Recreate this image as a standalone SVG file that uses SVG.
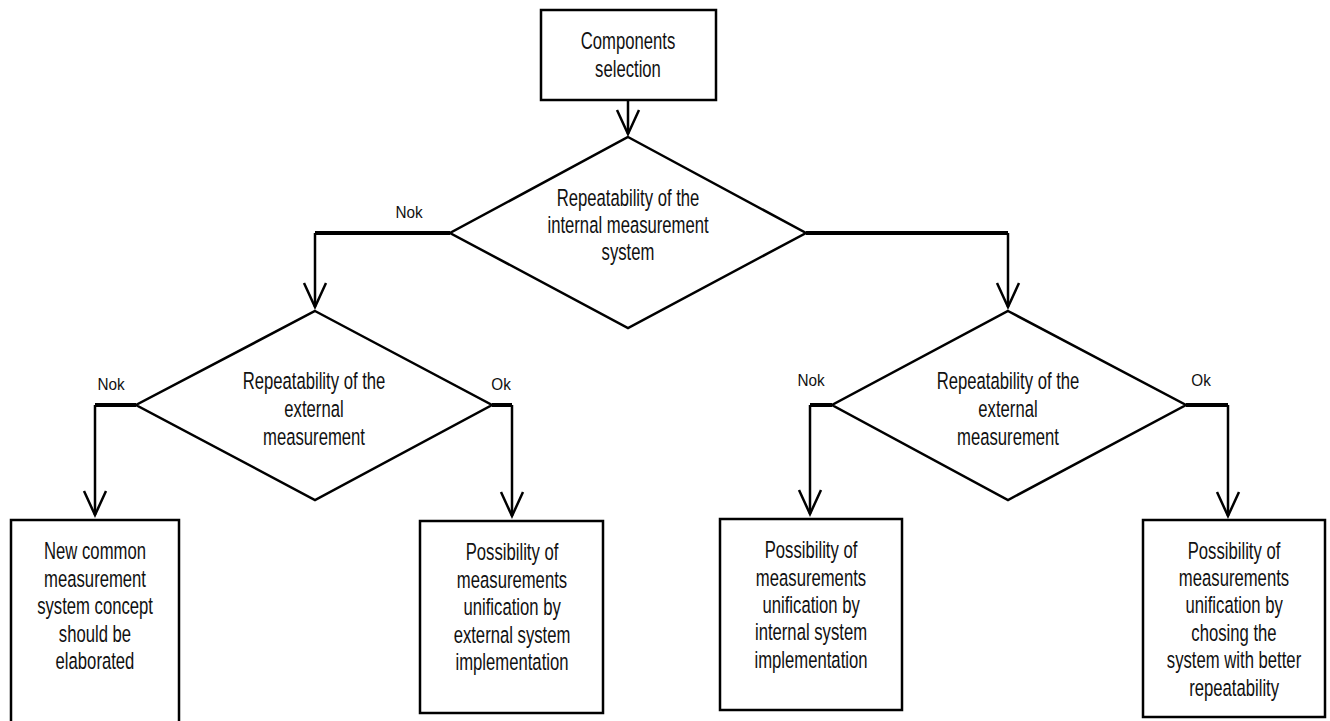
<svg xmlns="http://www.w3.org/2000/svg" width="1330" height="721" viewBox="0 0 1330 721">
<defs>
<style>
.box{fill:#fff;stroke:#000;stroke-width:2.5}
.dia{fill:#fff;stroke:#000;stroke-width:2.5}
.t{font-family:"Liberation Sans",sans-serif;font-size:23.5px;fill:#111;text-anchor:middle;transform-box:fill-box;transform-origin:center;transform:scaleX(0.71)}
.lbl{font-family:"Liberation Sans",sans-serif;font-size:17px;fill:#111;text-anchor:middle;transform-box:fill-box;transform-origin:center;transform:scaleX(0.9)}
.c{fill:none;stroke:#000;stroke-width:2.5}
.h{fill:none;stroke:#000;stroke-width:4}
</style>
<marker id="arr" markerUnits="userSpaceOnUse" viewBox="-3 -14 30 28" markerWidth="30" markerHeight="28" refX="24" refY="0" orient="auto">
<path d="M0,-11 L24,0 L0,11" fill="none" stroke="#000" stroke-width="2.5"/>
</marker>
</defs>
<rect width="1330" height="721" fill="#fff"/>
<g id="connectors">
<line class="c" x1="628" y1="100" x2="628" y2="134" marker-end="url(#arr)"/>
<polyline class="h" points="450,233 315,233"/>
<line class="c" x1="315" y1="233" x2="315" y2="307" marker-end="url(#arr)"/>
<polyline class="h" points="806,233 1008,233"/>
<line class="c" x1="1008" y1="233" x2="1008" y2="307" marker-end="url(#arr)"/>
<polyline class="h" points="136,405 95,405"/>
<line class="c" x1="95" y1="405" x2="95" y2="515" marker-end="url(#arr)"/>
<polyline class="h" points="492,405 512,405"/>
<line class="c" x1="512" y1="405" x2="512" y2="516" marker-end="url(#arr)"/>
<polyline class="h" points="832,405 810,405"/>
<line class="c" x1="810" y1="405" x2="810" y2="514" marker-end="url(#arr)"/>
<polyline class="h" points="1186,405 1228,405"/>
<line class="c" x1="1228" y1="405" x2="1228" y2="516" marker-end="url(#arr)"/>
<text class="lbl" x="409" y="218">Nok</text>
<text class="lbl" x="111" y="390">Nok</text>
<text class="lbl" x="501" y="390">Ok</text>
<text class="lbl" x="811" y="386">Nok</text>
<text class="lbl" x="1201" y="386">Ok</text>
</g>
<g id="start">
<rect class="box" x="541" y="10" width="175" height="90"/>
<text class="t" x="628" y="49">Components</text>
<text class="t" x="628" y="77">selection</text>
</g>
<g id="decision-internal">
<polygon class="dia" points="628,137 806,233 628,328 450,233"/>
<text class="t" x="628" y="206">Repeatability of the</text>
<text class="t" x="628" y="233">internal measurement</text>
<text class="t" x="628" y="260">system</text>
</g>
<g id="decision-external-left">
<polygon class="dia" points="315,311 492,405 315,500 136,405"/>
<text class="t" x="314" y="389">Repeatability of the</text>
<text class="t" x="314" y="417">external</text>
<text class="t" x="314" y="445">measurement</text>
</g>
<g id="decision-external-right">
<polygon class="dia" points="1008,311 1186,405 1008,500 832,405"/>
<text class="t" x="1008" y="389">Repeatability of the</text>
<text class="t" x="1008" y="417">external</text>
<text class="t" x="1008" y="445">measurement</text>
</g>
<g id="result-new-concept">
<rect class="box" x="11" y="520" width="168" height="210"/>
<text class="t" x="95" y="559">New common</text>
<text class="t" x="95" y="587">measurement</text>
<text class="t" x="95" y="614">system concept</text>
<text class="t" x="95" y="642">should be</text>
<text class="t" x="95" y="669">elaborated</text>
</g>
<g id="result-external">
<rect class="box" x="420" y="521" width="183" height="192"/>
<text class="t" x="512" y="560">Possibility of</text>
<text class="t" x="512" y="588">measurements</text>
<text class="t" x="512" y="615">unification by</text>
<text class="t" x="512" y="643">external system</text>
<text class="t" x="512" y="670">implementation</text>
</g>
<g id="result-internal">
<rect class="box" x="720" y="519" width="182" height="191"/>
<text class="t" x="811" y="558">Possibility of</text>
<text class="t" x="811" y="586">measurements</text>
<text class="t" x="811" y="613">unification by</text>
<text class="t" x="811" y="640">internal system</text>
<text class="t" x="811" y="668">implementation</text>
</g>
<g id="result-better">
<rect class="box" x="1143" y="520" width="182" height="197"/>
<text class="t" x="1234" y="559">Possibility of</text>
<text class="t" x="1234" y="586">measurements</text>
<text class="t" x="1234" y="613">unification by</text>
<text class="t" x="1234" y="641">chosing the</text>
<text class="t" x="1234" y="668">system with better</text>
<text class="t" x="1234" y="696">repeatability</text>
</g>
</svg>
